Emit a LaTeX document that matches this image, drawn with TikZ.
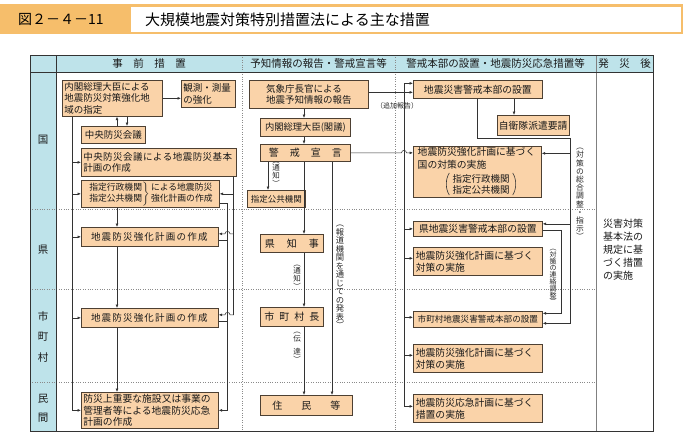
\documentclass[tikz,border=0pt]{standalone}
\usepackage{fontspec}
\setmainfont{Noto Sans CJK JP}
\usetikzlibrary{arrows.meta}
\definecolor{boxfill}{HTML}{FAD3A9}
\definecolor{boxline}{HTML}{4D4033}
\definecolor{headblue}{HTML}{BEE3EA}
\definecolor{titleor}{HTML}{F6BE6B}
\definecolor{lncol}{HTML}{333333}
\definecolor{dotcol}{HTML}{8A8A8A}
\newcommand\fsz[2]{\fontsize{#1pt}{#2pt}\selectfont}
\def\lspace{1.2pt}
\def\lsp#1{\lsploop#1\relax}
\def\lsploop#1{\ifx#1\relax\else#1\kern\lspace\relax\expandafter\lsploop\fi}
\tikzset{
  jbox/.style={draw=boxline, fill=boxfill, line width=0.7pt, inner sep=1.5pt, anchor=north west, align=left, font=\fsz{9.5}{11.6}, text=black!90},
  arw/.style={draw=lncol, line width=0.55pt, -{Latex[length=3.4pt,width=2.8pt]}},
  arw2/.style={draw=lncol, line width=0.55pt, {Latex[length=3.4pt,width=2.8pt]}-{Latex[length=3.4pt,width=2.8pt]}},
  plainln/.style={draw=lncol, line width=0.55pt},
  vlab/.style={align=center, inner sep=0pt, text=black!85},
  dotl/.style={draw=dotcol, line width=0.6pt, dash pattern=on 0.8pt off 1.6pt},
  hdtxt/.style={font=\fsz{10.5}{12}, inner sep=0pt, text=black!90},
  intxt/.style={inner sep=0pt, align=left, text=black!90},
}
\newcommand\bx[7][]{\node[jbox,minimum width=#5pt,minimum height=#6pt,#1] (#2) at (#3,#4) {#7};}
\begin{document}
\begin{tikzpicture}[x=1pt,y=-1pt]
\useasboundingbox (0,0) rectangle (684,434);
% title
\fill[titleor] (0,4) rectangle (683,34);
\fill[white] (131,6.5) rectangle (680.5,31.5);
\node[font=\fsz{14}{16}, anchor=west, inner sep=0pt] (fig) at (18,19.5) {図２－４－11};
\node[font=\fsz{15}{17}, anchor=west, inner sep=0pt] (ttl) at (145,19.5) {大規模地震対策特別措置法による主な措置};
% table
\fill[headblue] (30,55) rectangle (653,72);
\fill[headblue] (30,72) rectangle (56,431);
\draw[dotl] (242,55) -- (242,431);
\draw[dotl] (395,55) -- (395,431);
\draw[dotl] (30,209) -- (596,209);
\draw[dotl] (30,289) -- (596,289);
\draw[dotl] (30,382) -- (596,382);
\draw[gray, line width=1pt] (596,55) -- (596,431);
\draw[lncol, line width=0.6pt] (30,72) -- (653,72);
\draw[lncol, line width=0.6pt] (56,55) -- (56,431);
\draw[lncol, line width=0.9pt] (30,55) rectangle (653,431);
% headers
\node[hdtxt] (h1) at (149,63.5) {事　前　措　置};
\node[hdtxt] (h2) at (318.5,63.5) {予知情報の報告・警戒宣言等};
\node[hdtxt] (h3) at (495.5,63.5) {警戒本部の設置・地震防災応急措置等};
\node[hdtxt] (h4) at (624.5,63.5) {発　災　後};
% row labels
\node[hdtxt] (r1) at (43,140) {国};
\node[hdtxt] (r2) at (43,250) {県};
\node[hdtxt] (r3a) at (43,316) {市};
\node[hdtxt] (r3b) at (43,337) {町};
\node[hdtxt] (r3c) at (43,358) {村};
\node[hdtxt] (r4a) at (43,399) {民};
\node[hdtxt] (r4b) at (43,418) {間};
% column 1 boxes
\bx[text width=96pt]{A}{62}{80}{100}{36}{内閣総理大臣による\\地震防災対策強化地\\域の指定}
\bx[text width=50pt]{kan}{181}{80}{54}{27}{観測・測量\\の強化}
\bx{chuo}{81}{126}{64}{17}{中央防災会議}
\bx[text width=151pt]{kihon}{81}{148}{155}{28}{{\def\lspace{0.45pt}\lsp{中央防災会議による地震防災基本}}\\計画の作成}
\bx[font=\fsz{8.8}{10.5}]{shitei}{81}{180}{138}{27}{$\left.\begin{tabular}{@{}l@{}}指定行政機関\\指定公共機関\end{tabular}\right\}$\,\begin{tabular}{@{}l@{}}による地震防災\\強化計画の作成\end{tabular}}
\bx{ken1}{81}{227}{137}{19}{\lsp{地震防災強化計画の作成}}
\bx{shi1}{81}{308}{137}{19}{\lsp{地震防災強化計画の作成}}
\bx[text width=133pt, font=\fsz{9.8}{11.6}]{min1}{81}{392}{137}{36}{防災上重要な施設又は事業の\\管理者等による地震防災応急\\計画の作成}
% column 2 boxes
\bx{kisho}{249}{80}{119}{28}{気象庁長官による\\地震予知情報の報告}
\bx[font=\fsz{9.3}{11}]{kakugi}{260}{118}{90}{18}{内閣総理大臣(閣議)}
\bx[font=\fsz{10}{12}]{keikai}{260}{144}{90}{17}{警\hspace{11pt}戒\hspace{11pt}宣\hspace{11pt}言}
\bx[font=\fsz{8.5}{10}]{skk}{247}{190}{58}{17}{指定公共機関}
\bx[font=\fsz{10}{12}]{chiji}{260}{234}{63}{18}{県\hspace{12pt}知\hspace{12pt}事}
\bx[font=\fsz{10}{12}]{chocho}{260}{307}{63}{19}{市\hspace{5pt}町\hspace{5pt}村\hspace{5pt}長}
\bx[font=\fsz{10}{12}]{jumin}{260}{395}{92}{20}{住\hspace{19pt}民\hspace{19pt}等}
% column 3 boxes
\bx[font=\fsz{9.8}{11.6}]{honbu}{413}{80}{129}{18}{地震災害警戒本部の設置}
\bx[font=\fsz{9.8}{11.6}]{jiei}{497}{115}{71}{20}{自衛隊派遣要請}
\bx{kuni}{413}{146}{128}{51}{}
\node[intxt, font=\fsz{9.8}{13}, anchor=north west] (kunia) at (417.5,147.5) {地震防災強化計画に基づく\\国の対策の実施};
\node[intxt, font=\fsz{9.5}{11}] (kunib) at (481,184) {指定行政機関\\指定公共機関};
\draw[plainln, line width=0.6pt] ([xshift=-3pt,yshift=11pt]kunib.west) .. controls ([xshift=-7pt,yshift=5pt]kunib.west) and ([xshift=-7pt,yshift=-5pt]kunib.west) .. ([xshift=-3pt,yshift=-11pt]kunib.west);
\draw[plainln, line width=0.6pt] ([xshift=3pt,yshift=11pt]kunib.east) .. controls ([xshift=7pt,yshift=5pt]kunib.east) and ([xshift=7pt,yshift=-5pt]kunib.east) .. ([xshift=3pt,yshift=-11pt]kunib.east);
\bx[font=\fsz{9.8}{11.6}]{kenh}{413}{221}{129}{15}{県地震災害警戒本部の設置}
\bx[text width=124pt, font=\fsz{9.8}{12}]{kent}{413}{247}{129}{28}{地震防災強化計画に基づく\\対策の実施}
\bx[font=\fsz{8.6}{10}]{shih}{413}{311}{129}{16}{市町村地震災害警戒本部の設置}
\bx[text width=124pt, font=\fsz{9.8}{12}]{shit}{413}{344}{129}{28}{地震防災強化計画に基づく\\対策の実施}
\bx[text width=124pt, font=\fsz{9.8}{12}]{oq}{413}{394}{129}{28}{地震防災応急計画に基づく\\措置の実施}
% column 4
\node[font=\fsz{10}{13}, align=left, anchor=north west, inner sep=0pt, text=black!90] (hatsu) at (603,219) {災害対策\\基本法の\\規定に基\\づく措置\\の実施};
% bus coordinates
\coordinate (xL) at (72,0);
\coordinate (xC) at (117,0);
\coordinate (xC2) at (127,0);
\coordinate (xR1) at (233.5,0);
\coordinate (xR2) at (227.5,0);
\coordinate (xR2h) at (230,0);
\coordinate (xM) at (304,0);
\coordinate (xM2) at (268,0);
\coordinate (xM3) at (332,0);
\coordinate (xB) at (404,0);
\coordinate (xBh) at (401.5,0);
\coordinate (xJ) at (514,0);
\coordinate (xH) at (477,0);
\coordinate (xS) at (570,0);
\coordinate (xS2) at (561,0);
\coordinate (yT) at (0,138);
% column 1 connectors
\draw[arw] (A.east) -- (kan.west |- A.east);
\draw[arw] (xC |- chuo.north) -- (xC |- A.south);
\draw[arw] (xC2 |- A.south) -- (xC2 |- chuo.north);
\draw[arw] (xL |- A.south) -- (xL |- min1.west) -- (min1.west);
\foreach \n in {kihon,shitei,ken1,shi1} \draw[arw] (xL |- \n.west) -- (\n.west);
\draw[arw] (xC |- shitei.south) -- (xC |- ken1.north);
\draw[arw] (xC |- ken1.south) -- (xC |- shi1.north);
\draw[arw] (xC |- shi1.south) -- (xC |- min1.north);
\coordinate (k1a) at ([yshift=3pt]ken1.east);
\coordinate (s1a) at ([yshift=3pt]shi1.east);
\coordinate (k1b) at ([yshift=-3pt]ken1.east);
\coordinate (s1b) at ([yshift=-3pt]shi1.east);
\coordinate (sh2) at ([yshift=-9.5pt]shitei.east);
\draw[arw] (xR1 |- shitei.east) -- (shitei.east);
\draw[arw] (xR1 |- k1a) -- (xR2h |- k1a) arc[start angle=0,end angle=-180,radius=2.5] -- (k1a);
\draw[arw] (xR1 |- kihon.south) -- (xR1 |- s1a) -- (xR2h |- s1a) arc[start angle=0,end angle=-180,radius=2.5] -- (s1a);
\draw[arw] (sh2) -- (xR2 |- sh2) -- (xR2 |- min1.east) -- (min1.east);
\draw[plainln] (k1b) -- (xR2 |- k1b);
\draw[plainln] (s1b) -- (xR2 |- s1b);
% column 2 connectors
\draw[arw] (xM |- kisho.south) -- (xM |- kakugi.north);
\draw[arw] (xM |- kakugi.south) -- (xM |- keikai.north);
\draw[arw] (xM2 |- keikai.south) -- (xM2 |- skk.north);
\draw[arw] (xM |- keikai.south) -- (xM |- chiji.north);
\draw[arw] (xM |- chiji.south) -- (xM |- chocho.north);
\draw[arw] (xM |- chocho.south) -- (xM |- jumin.north);
\draw[arw] (xM3 |- keikai.south) -- (xM3 |- jumin.north);
\coordinate (kh) at ([yshift=2pt]kisho.east);
\draw[arw] (kh) -- (honbu.west |- kh);
\coordinate (bt) at ([yshift=6pt]honbu.west);
\coordinate (ob) at ([yshift=2pt]oq.west);
\draw[arw2] (bt) -- (xB |- bt) -- (xB |- ob) -- (ob);
\draw[arw] (xB |- kenh.west) -- (kenh.west);
\coordinate (kt1) at ([yshift=3pt]kent.west);
\coordinate (sh1) at ([yshift=2pt]shih.west);
\coordinate (st1) at ([yshift=3pt]shit.west);
\draw[arw] (xB |- kt1) -- (kt1);
\draw[arw] (xB |- sh1) -- (sh1);
\draw[arw] (xB |- st1) -- (st1);
\draw[arw] (keikai.east) -- (xBh |- keikai.east) arc[start angle=180,end angle=360,radius=2.5] -- (kuni.west |- keikai.east);
% column 3 connectors
\draw[arw] (xJ |- honbu.south) -- (xJ |- jiei.north);
\coordinate (k3) at ([yshift=18.5pt]kuni.east);
\coordinate (s3b) at ([yshift=-4pt]shih.east);
\coordinate (s3a) at ([yshift=6pt]shih.east);
\coordinate (kh3) at ([yshift=5pt]kenh.east);
\coordinate (kh4) at ([yshift=-1pt]kenh.east);
\draw[arw] (xH |- honbu.south) -- (xH |- yT) -- (xS |- yT) -- (xS |- s3b) -- (s3b);
\draw[arw] (xS |- k3) -- (k3);
\draw[arw] (xS |- kh3) -- (kh3);
\draw[arw] (kh4) -- (xS2 |- kh4) -- (xS2 |- s3a) -- (s3a);
% labels
\node[vlab, font=\fsz{7.8}{8.2}] (lb1) at (580,194) {︵\\対\\策\\の\\総\\合\\調\\整\\・\\指\\示\\︶};
\node[vlab, font=\fsz{7}{6.8}] (lb2) at (553,277) {︵\\対\\策\\の\\連\\絡\\調\\整\\︶};
\node[vlab, font=\fsz{8.3}{8.5}] (lb3) at (340,277) {︵\\報\\道\\機\\関\\を\\通\\じ\\て\\の\\発\\表\\︶};
\node[vlab, font=\fsz{7.5}{6.5}] (lb4) at (276,174) {︵\\通\\知\\︶};
\node[vlab, font=\fsz{7.5}{6.5}] (lb5) at (297,277) {︵\\通\\知\\︶};
\node[vlab, font=\fsz{7.5}{6.5}] (lb6) at (297,347) {︵\\伝\\\mbox{}\\達\\︶};
\node[font=\fsz{7}{8}, inner sep=0pt, text=black!85] (lb7) at (397,106) {（追加報告）};
\end{tikzpicture}
\end{document}
